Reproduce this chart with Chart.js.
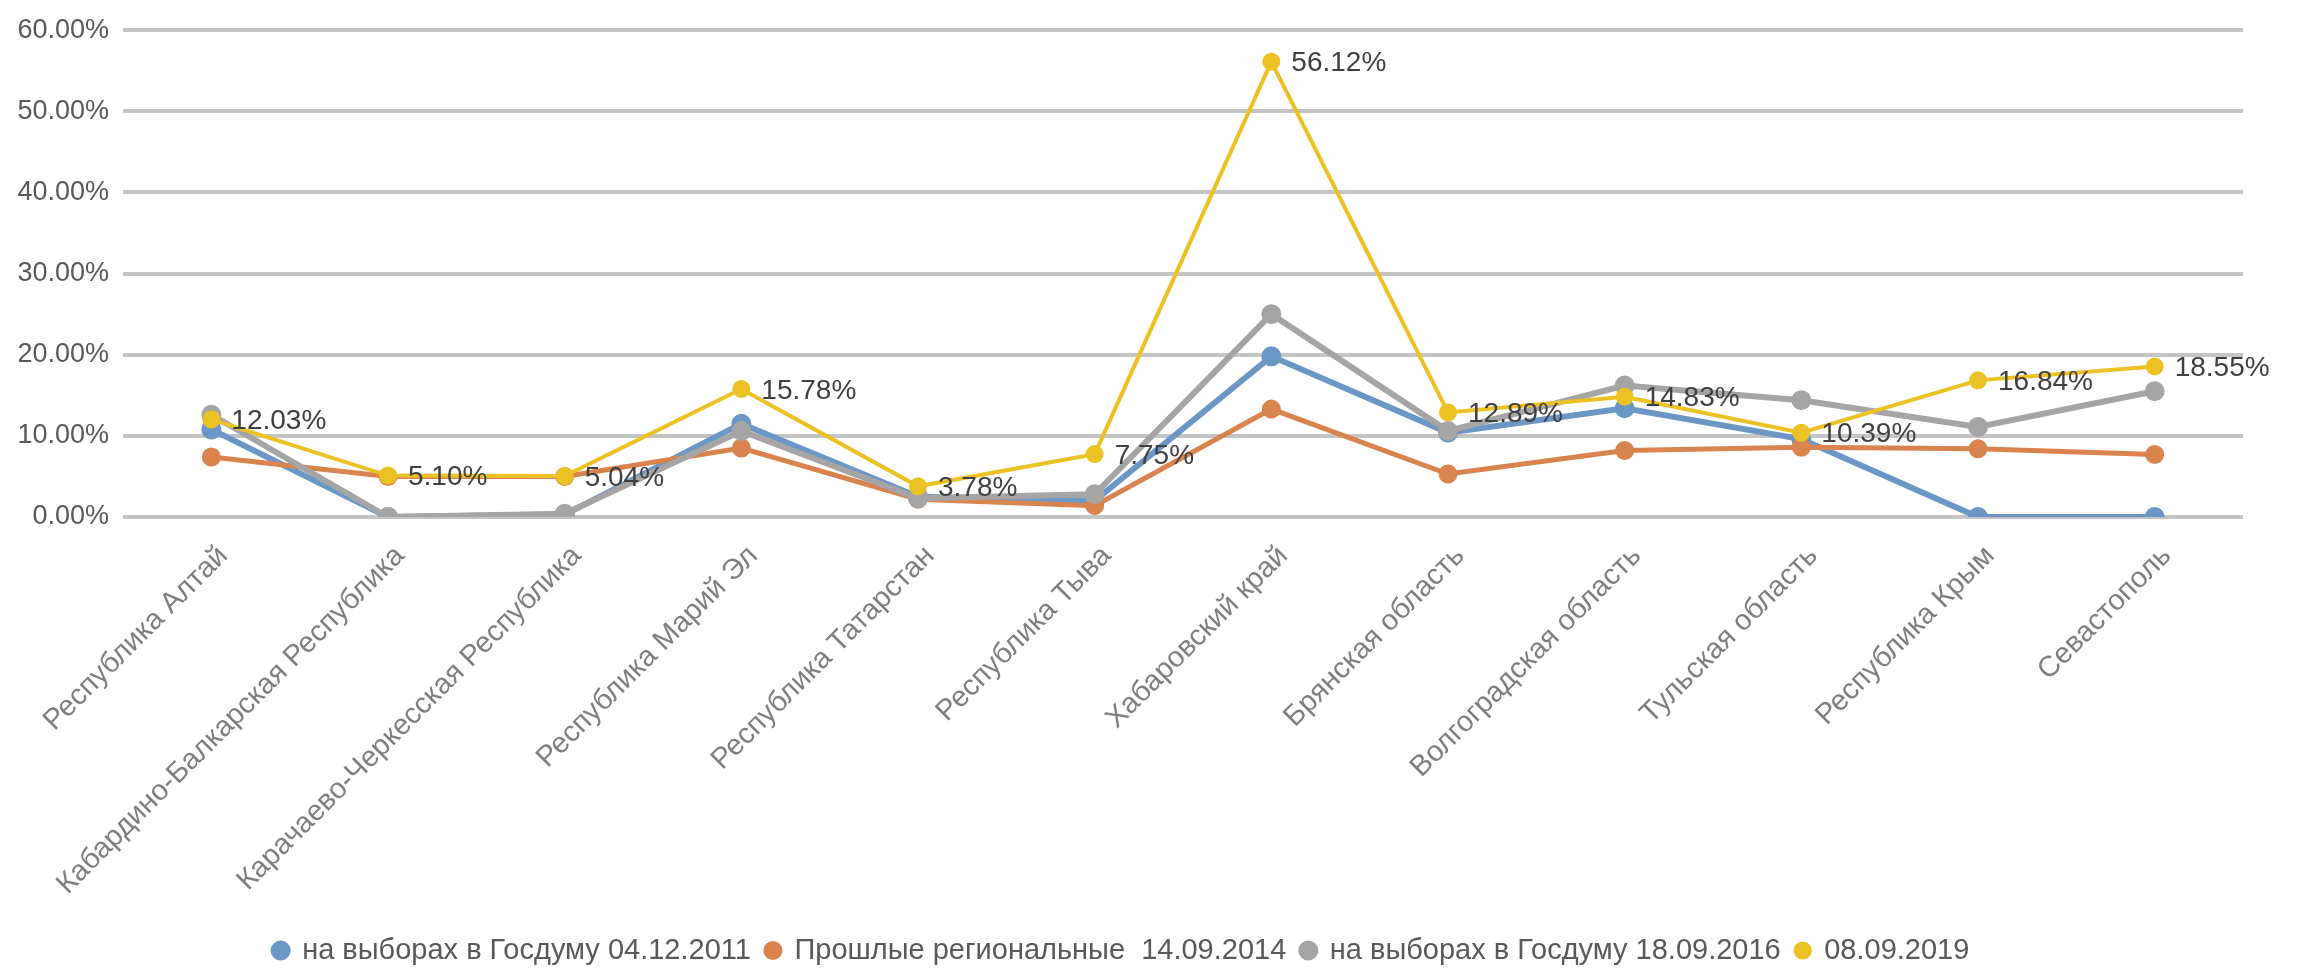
<!DOCTYPE html>
<html lang="ru">
<head>
<meta charset="utf-8">
<title>Явка по регионам</title>
<script src="https://cdn.jsdelivr.net/npm/chart.js@4.4.1/dist/chart.umd.min.js"></script>
<style>
    body { margin: 0; background: #ffffff; }
    canvas { display: block; }
</style>
</head>
<body>
<canvas id="turnoutChart" width="2298" height="970"></canvas>
<script>
// Regions (x axis)
const regions = [
    "Республика Алтай",
    "Кабардино-Балкарская Республика",
    "Карачаево-Черкесская Республика",
    "Республика Марий Эл",
    "Республика Татарстан",
    "Республика Тыва",
    "Хабаровский край",
    "Брянская область",
    "Волгоградская область",
    "Тульская область",
    "Республика Крым",
    "Севастополь"
];

// Series names (legend)
const seriesNames = [
    "на выборах в Госдуму 04.12.2011",
    "Прошлые региональные  14.09.2014",
    "на выборах в Госдуму 18.09.2016",
    "08.09.2019"
];

// Values in percent
const duma2011 = [10.8, 0, 0.3, 11.5, 2.5, 2.0, 19.8, 10.4, 13.4, 9.6, 0, 0];
const regional2014 = [7.4, 5.0, 5.0, 8.5, 2.2, 1.4, 13.3, 5.3, 8.2, 8.6, 8.4, 7.7];
const duma2016 = [12.6, 0, 0.4, 10.6, 2.3, 2.8, 25.0, 10.6, 16.2, 14.4, 11.1, 15.5];
const vote2019 = [12.03, 5.10, 5.04, 15.78, 3.78, 7.75, 56.12, 12.89, 14.83, 10.39, 16.84, 18.55];

// Y axis ticks
const yTicks = [0, 10, 20, 30, 40, 50, 60];

const colors = ['#6a97c5', '#d9834f', '#a5a5a5', '#ecc124'];
const font = "'Liberation Sans', Arial, sans-serif";

function pct(v) {
    return v.toFixed(2) + '%';
}

function makeSet(i, values, width, order) {
    return {
        label: seriesNames[i],
        data: values,
        borderColor: colors[i],
        backgroundColor: colors[i],
        pointBackgroundColor: colors[i],
        pointBorderColor: colors[i],
        borderWidth: width,
        pointRadius: 7,
        pointHoverRadius: 7,
        tension: 0,
        order: order
    };
}

// labels next to the points of the last series
const valueLabels = {
    id: 'valueLabels',
    afterDatasetsDraw(chart) {
        const meta = chart.getDatasetMeta(3);
        const ctx = chart.ctx;
        ctx.save();
        ctx.font = "28px " + font;
        ctx.fillStyle = '#404040';
        ctx.textAlign = 'left';
        ctx.textBaseline = 'middle';
        meta.data.forEach((pt, i) => {
            ctx.fillText(pct(vote2019[i]), pt.x + 20, pt.y + 2);
        });
        ctx.restore();
    }
};

new Chart(document.getElementById("turnoutChart"), {
    type: 'line',
    data: {
        labels: regions,
        datasets: [
            makeSet(0, duma2011, 6, 3),
            makeSet(1, regional2014, 5, 2),
            makeSet(2, duma2016, 6, 1),
            makeSet(3, vote2019, 4, 0)
        ]
    },
    options: {
        responsive: false,
        animation: false,
        devicePixelRatio: 1,
        layout: {
            padding: { top: 20, right: 55, bottom: -5, left: 0 }
        },
        scales: {
            x: {
                offset: true,
                grid: { display: false, drawTicks: false },
                border: { display: false },
                ticks: {
                    autoSkip: false,
                    minRotation: 45,
                    maxRotation: 45,
                    padding: 22,
                    labelOffset: 12,
                    color: '#7f7f7f',
                    font: { family: font, size: 29 }
                },
                afterFit: s => { s.height = 404; }
            },
            y: {
                min: 0,
                max: 60,
                afterBuildTicks: s => { s.ticks = yTicks.map(v => ({ value: v })); },
                grid: { color: '#c4c4c4', lineWidth: 4, drawTicks: false },
                border: { display: false },
                ticks: {
                    padding: 14,
                    color: '#595959',
                    font: { family: font, size: 27 },
                    callback: v => pct(v)
                },
                afterFit: s => { s.width = 123; }
            }
        },
        plugins: {
            legend: {
                position: 'bottom',
                labels: {
                    usePointStyle: true,
                    pointStyle: 'circle',
                    boxWidth: 14,
                    boxHeight: 10,
                    padding: 15,
                    color: '#595959',
                    font: { family: font, size: 29 },
                    sort: (a, b) => a.datasetIndex - b.datasetIndex
                }
            },
            tooltip: { enabled: false }
        }
    },
    plugins: [valueLabels]
});
</script>
</body>
</html>
